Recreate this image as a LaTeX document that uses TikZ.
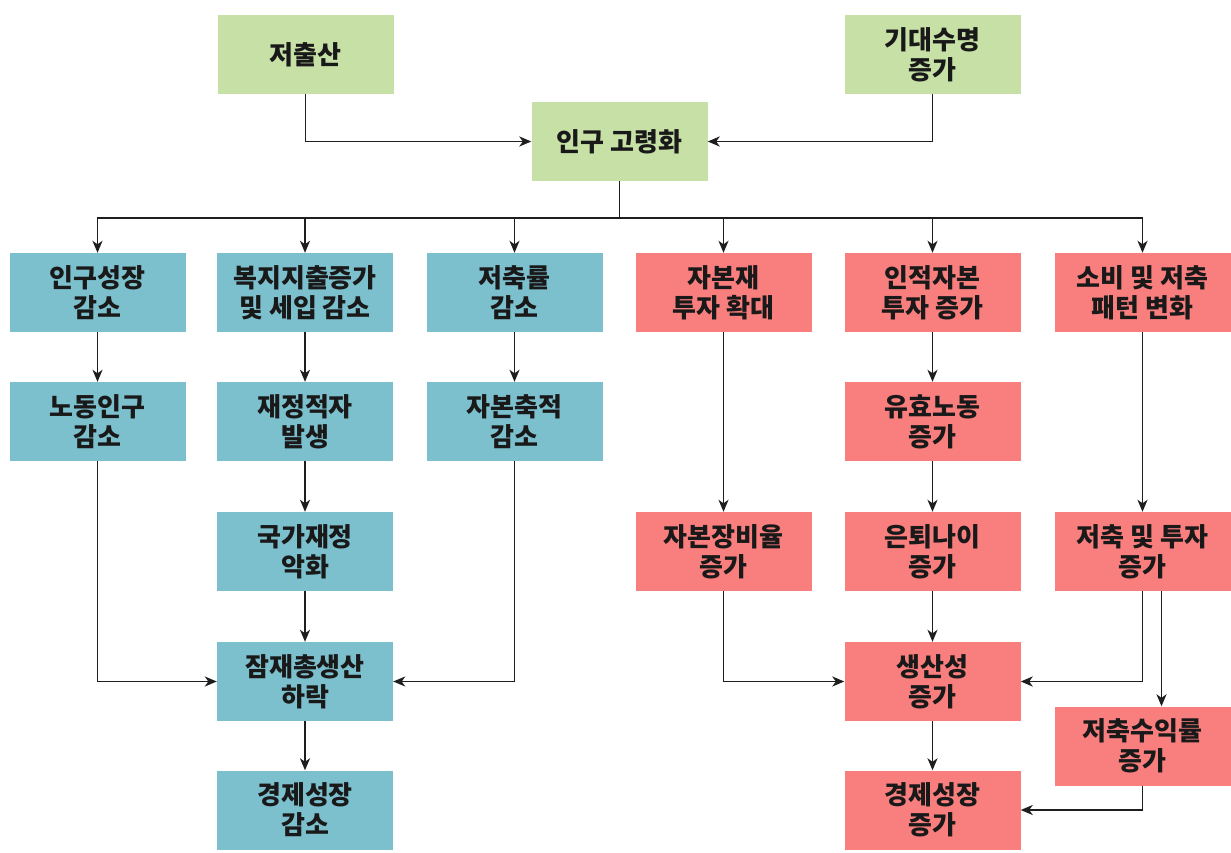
\documentclass[tikz,border=0pt]{standalone}
\usepackage{fontspec}
\setmainfont{Noto Sans CJK KR}
\usetikzlibrary{arrows.meta}
\definecolor{gfill}{HTML}{C6E0A6}
\definecolor{bfill}{HTML}{7CBFCD}
\definecolor{rfill}{HTML}{F97E7E}
\definecolor{lcol}{HTML}{1E1E1E}
\tikzset{
  box/.style={minimum width=176pt,minimum height=79pt,inner sep=0pt,align=center,
    font=\bfseries\fontsize{26}{30}\selectfont,text={black!90}},
  gbox/.style={box,fill=gfill},
  bbox/.style={box,fill=bfill},
  rbox/.style={box,fill=rfill},
  arr/.style={draw=lcol,line width=1.8pt,-{Stealth[length=12pt,width=10pt,inset=3.5pt]}},
  ln/.style={draw=lcol,line width=1.8pt}
}
\begin{document}
\begin{tikzpicture}[x=1pt,y=-1pt]
\useasboundingbox (0,0) rectangle (1231,853);
% top
\node[gbox] (low) at (305.5,54.5) {저출산};
\node[gbox] (life) at (932.5,54.5) {기대수명\\증가};
\node[gbox] (aging) at (619.5,141.5) {인구 고령화};
% row 1
\node[bbox] (a1) at (97.5,292.5) {인구성장\\감소};
\node[bbox] (b1) at (305,292.5) {복지지출증가\\및 세입 감소};
\node[bbox] (c1) at (514.5,292.5) {저축률\\감소};
\node[rbox] (d1) at (723.5,292.5) {자본재\\투자 확대};
\node[rbox] (e1) at (932.5,292.5) {인적자본\\투자 증가};
\node[rbox] (f1) at (1142.5,292.5) {소비 및 저축\\패턴 변화};
% row 2
\node[bbox] (a2) at (97.5,421.5) {노동인구\\감소};
\node[bbox] (b2) at (305,421.5) {재정적자\\발생};
\node[bbox] (c2) at (514.5,421.5) {자본축적\\감소};
\node[rbox] (e2) at (932.5,421.5) {유효노동\\증가};
% row 3
\node[bbox] (b3) at (305,551.5) {국가재정\\악화};
\node[rbox] (d3) at (723.5,551.5) {자본장비율\\증가};
\node[rbox] (e3) at (932.5,551.5) {은퇴나이\\증가};
\node[rbox] (f3) at (1142.5,551.5) {저축 및 투자\\증가};
% row 4
\node[bbox] (b4) at (305,681.5) {잠재총생산\\하락};
\node[rbox] (e4) at (932.5,681.5) {생산성\\증가};
\node[rbox] (f4) at (1142.5,746) {저축수익률\\증가};
% row 5
\node[bbox] (b5) at (305,810) {경제성장\\감소};
\node[rbox] (e5) at (932.5,810) {경제성장\\증가};
% connectors top
\draw[arr] (low) |- (aging);
\draw[arr] (life) |- (aging);
\coordinate (bus) at (619.5,218);
\draw[ln] (aging) -- (bus);
\foreach \n in {a1,b1,c1,d1,e1,f1} \draw[arr] (bus) -| (\n);
% left side
\draw[arr] (a1) -- (a2);
\draw[arr] (b1) -- (b2);
\draw[arr] (c1) -- (c2);
\draw[arr] (b2) -- (b3);
\draw[arr] (b3) -- (b4);
\draw[arr] (b4) -- (b5);
\draw[arr] (a2) |- (b4);
\draw[arr] (c2) |- (b4);
% right side
\draw[arr] (d1) -- (d3);
\draw[arr] (e1) -- (e2);
\draw[arr] (e2) -- (e3);
\draw[arr] (e3) -- (e4);
\draw[arr] (e4) -- (e5);
\draw[arr] (f1) -- (f3);
\draw[arr] (d3) |- (e4);
\draw[arr] (f3) |- (e4);
\draw[arr] ([xshift=19pt]f3.south) -- ([xshift=19pt]f4.north);
\draw[arr] (f4) |- (e5);
\end{tikzpicture}
\end{document}
